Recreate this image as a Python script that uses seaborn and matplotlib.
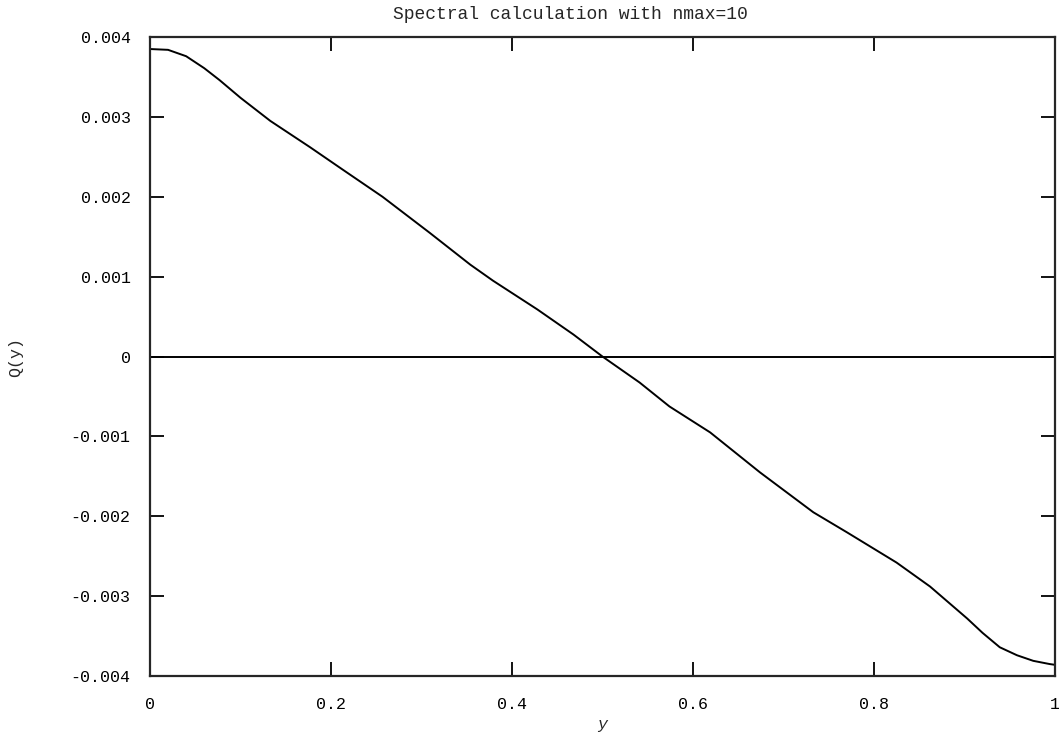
import matplotlib
matplotlib.use("Agg")
import matplotlib.pyplot as plt
import pandas as pd
import numpy as np
import seaborn as sns

# values
y_pos = [0.0, 0.02, 0.04, 0.06, 0.077, 0.1, 0.133, 0.177, 0.213, 0.257,
         0.309, 0.354, 0.379, 0.428, 0.468, 0.5, 0.541, 0.574, 0.619,
         0.674, 0.733, 0.77, 0.825, 0.862, 0.903, 0.92, 0.939, 0.958,
         0.976, 0.994, 1.0]
q_vals = [0.00385, 0.00384, 0.00376, 0.00361, 0.00346, 0.00324, 0.00295,
          0.00262, 0.00234, 0.00200, 0.00155, 0.00115, 0.00095, 0.00059,
          0.000275, 0.0, -0.000325, -0.000625, -0.00095, -0.00145,
          -0.00195, -0.0022, -0.00258, -0.00288, -0.00328, -0.00346,
          -0.00364, -0.00374, -0.00381, -0.00385, -0.00386]
x_ticks = [0, 0.2, 0.4, 0.6, 0.8, 1]
x_labels = ["0", "0.2", "0.4", "0.6", "0.8", "1"]
y_ticks = [-0.004, -0.003, -0.002, -0.001, 0, 0.001, 0.002, 0.003, 0.004]
y_labels = ["-0.004", "-0.003", "-0.002", "-0.001", "0",
            "0.001", "0.002", "0.003", "0.004"]

sns.set_style("ticks")
plt.rcParams['font.family'] = ['Liberation Mono', 'DejaVu Sans Mono']

df = pd.DataFrame({"y": y_pos, "Q": q_vals})

fig = plt.figure(figsize=(10.59, 7.41), dpi=100)
ax = fig.add_axes([0.1416, 0.0877, 0.8546, 0.8623])

sns.lineplot(data=df, x="y", y="Q", color="black", linewidth=1.4, ax=ax)
ax.axhline(0, color="black", linewidth=1.4)

ax.set_xlim(0, 1)
ax.set_ylim(-0.004, 0.004)
ax.set_xticks(x_ticks)
ax.set_xticklabels(x_labels)
ax.set_yticks(y_ticks)
ax.set_yticklabels(y_labels)
ax.tick_params(direction="in", length=10, width=1.3, top=True, right=True,
               labelsize=12, colors="black")
ax.tick_params(axis="x", pad=15)
ax.tick_params(axis="y", pad=14)
for s in ax.spines.values():
    s.set_linewidth(1.6)
    s.set_visible(True)

ax.set_title("Spectral calculation with nmax=10", fontsize=13, pad=13,
             x=0.465)
ax.set_xlabel("y", fontsize=12, style="italic", labelpad=4)
ax.set_ylabel("Q(y)", fontsize=12, labelpad=34)

plt.savefig("out.png", dpi=100)
